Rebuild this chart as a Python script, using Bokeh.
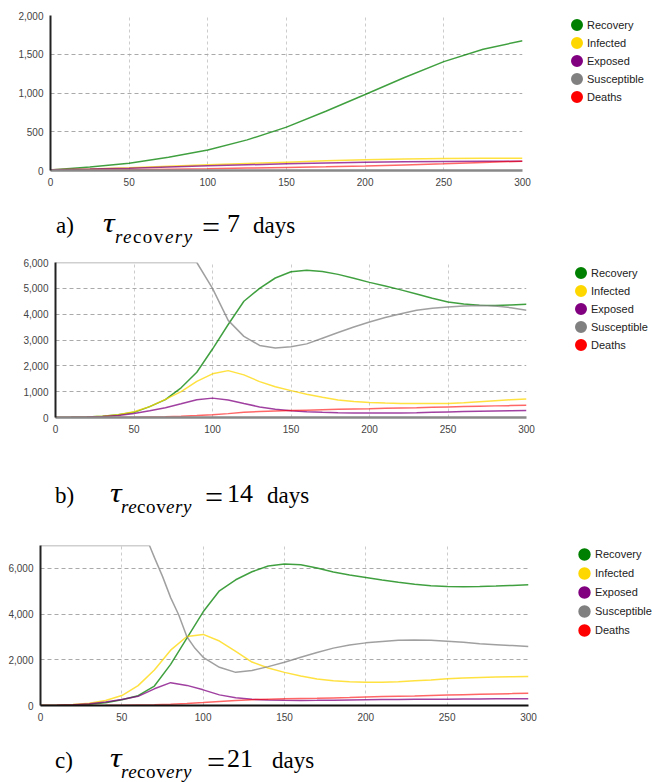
from bokeh.plotting import figure
from bokeh.models import Legend, LegendItem, NumeralTickFormatter, FixedTicker, Range1d, Div
from bokeh.layouts import column
from bokeh.embed import file_html
from bokeh.resources import INLINE

# ---------------- data ----------------
series_names = ["Recovery", "Infected", "Exposed", "Susceptible", "Deaths"]
legend_colors = ["#008000", "#FFD700", "#800080", "#808080", "#FF0000"]
x_ticks = [0, 50, 100, 150, 200, 250, 300]

# panel a) tau_recovery = 7 days
days_a = [0, 25, 50, 75, 100, 125, 150, 175, 200, 225, 250, 275, 300]
recovery_a = [5, 45, 95, 170, 265, 395, 560, 765, 980, 1200, 1405, 1565, 1675]
infected_a = [10, 20, 35, 55, 73, 90, 107, 125, 138, 148, 155, 158, 159]
exposed_a = [10, 18, 30, 45, 60, 73, 86, 97, 107, 113, 116, 118, 120]
deaths_a = [0, 4, 9, 15, 22, 32, 40, 48, 57, 71, 86, 103, 120]
y_ticks_a = [0, 500, 1000, 1500, 2000]

# panel b) tau_recovery = 14 days
days_b = [0, 10, 20, 30, 40, 50, 60, 70, 80, 90, 100, 110, 120, 130, 140, 150,
          160, 170, 180, 190, 200, 210, 220, 230, 240, 250, 260, 270, 280, 290, 300]
recovery_b = [0, 5, 20, 50, 110, 200, 420, 690, 1150, 1750, 2650, 3600, 4500, 5000, 5400, 5640,
              5700, 5650, 5540, 5390, 5230, 5090, 4940, 4780, 4620, 4475, 4390, 4350, 4340, 4355, 4385]
infected_b = [0, 5, 20, 50, 110, 220, 420, 700, 1000, 1400, 1690, 1815, 1650, 1390, 1190, 1040,
              900, 780, 680, 620, 585, 560, 545, 540, 540, 545, 570, 610, 650, 685, 715]
exposed_b = [0, 5, 15, 35, 80, 155, 260, 380, 530, 690, 750, 680, 540, 410, 320, 260,
             225, 200, 185, 175, 170, 170, 175, 185, 200, 215, 230, 240, 250, 260, 270]
susceptible_b = [6000, 6000, 6000, 6000, 6000, 6000, 6000, 6000, 6000, 6000, 5000, 3760, 3140, 2790, 2690, 2740,
                 2850, 3070, 3290, 3500, 3700, 3870, 4020, 4150, 4230, 4280, 4320, 4340, 4320, 4250, 4150]
deaths_b = [0, 0, 1, 3, 6, 12, 20, 30, 50, 75, 105, 150, 200, 235, 255, 270,
            285, 300, 315, 330, 340, 355, 370, 380, 395, 410, 425, 440, 450, 460, 470]
y_ticks_b = [0, 1000, 2000, 3000, 4000, 5000, 6000]

# panel c) tau_recovery = 21 days
days_c = [0, 10, 20, 30, 40, 50, 60, 70, 80, 90, 100, 110, 120, 130, 140, 150,
          160, 170, 180, 190, 200, 210, 220, 230, 240, 250, 260, 270, 280, 290, 300]
recovery_c = [0, 5, 20, 55, 120, 250, 430, 850, 1800, 2950, 4100, 5020, 5500, 5850, 6100, 6190,
              6160, 6020, 5840, 5710, 5600, 5490, 5390, 5300, 5240, 5210, 5200, 5210, 5230, 5255, 5280]
infected_c = [0, 10, 40, 100, 220, 435, 870, 1550, 2420, 3020, 3110, 2820, 2370, 1900, 1640, 1450,
              1290, 1160, 1080, 1040, 1020, 1020, 1040, 1080, 1120, 1165, 1200, 1230, 1250, 1260, 1265]
exposed_c = [0, 8, 30, 80, 150, 260, 400, 730, 1000, 880, 685, 465, 335, 270, 240, 225,
             220, 225, 232, 240, 250, 258, 265, 270, 273, 275, 280, 285, 290, 295, 298]
deaths_c = [0, 0, 1, 3, 6, 12, 22, 35, 55, 90, 130, 175, 220, 255, 275, 290,
            305, 318, 333, 350, 375, 390, 405, 420, 440, 460, 475, 490, 505, 520, 540]
days_c_susceptible = [0, 67, 70, 75, 80, 85, 90, 95, 100, 110, 120, 130, 140, 150, 160, 170,
                      180, 190, 200, 210, 220, 230, 240, 250, 260, 270, 280, 290, 300]
susceptible_c = [7000, 7000, 6480, 5650, 4720, 3960, 3010, 2500, 2110, 1670, 1450, 1530, 1700, 1890, 2110, 2320,
                 2510, 2650, 2740, 2800, 2850, 2870, 2850, 2810, 2770, 2700, 2660, 2620, 2580]
y_ticks_c = [0, 2000, 4000, 6000]

SANS = "Liberation Sans"
SERIF = "Liberation Serif"


def make_panel(series, ymax, yticks, fw, fh, shift, bt, bb, leg, xaxis_color, xaxis_width):
    p = figure(frame_width=fw, frame_height=fh, min_border_left=34, min_border_top=bt,
               min_border_right=120, min_border_bottom=bb,
               x_range=Range1d(0, 300), y_range=Range1d(0, ymax),
               output_backend="svg", toolbar_location=None, tools="")
    p.margin = (0, 0, 0, shift)
    p.outline_line_color = None
    p.background_fill_color = "white"
    p.border_fill_color = "white"
    p.extra_x_ranges = {"legend_only": Range1d(-20, -10)}

    p.xaxis.ticker = FixedTicker(ticks=x_ticks)
    p.yaxis.ticker = FixedTicker(ticks=yticks)
    p.yaxis.formatter = NumeralTickFormatter(format="0,0")
    for ax in (p.xaxis, p.yaxis):
        ax.major_tick_line_color = None
        ax.minor_tick_line_color = None
        ax.major_label_text_font = SANS
        ax.major_label_text_font_size = "10px"
        ax.major_label_text_color = "#444444"
    p.xaxis.major_label_standoff = 1
    p.yaxis.major_label_standoff = 1
    p.yaxis.axis_line_color = "#222222"
    p.yaxis.axis_line_width = 2
    p.xaxis.axis_line_color = xaxis_color
    p.xaxis.axis_line_width = xaxis_width

    p.ygrid.grid_line_color = "#aaaaaa"
    p.ygrid.grid_line_dash = "4 3"
    p.xgrid.grid_line_color = "#cccccc"
    p.xgrid.grid_line_dash = "3 3"

    for (xs, ys, color) in series:
        alpha = 0.6 if color == "#FF0000" else 0.75
        p.line(xs, ys, line_color=color, line_width=1.5, line_alpha=alpha)

    # legend-only circle markers: they sit on a range that is out of view
    items = []
    for name, c in zip(series_names, legend_colors):
        r = p.scatter(x=[0], y=[0], x_range_name="legend_only", marker="circle", size=6,
                      fill_color=c, line_color=c, line_width=6)
        items.append(LegendItem(label=name, renderers=[r]))
    lx, ly, gh, sp = leg
    legend = Legend(items=items, location=(lx, ly), margin=0, padding=0, spacing=sp,
                    glyph_width=gh, glyph_height=gh, label_height=gh, label_standoff=3,
                    label_text_font=SANS, label_text_font_size="11px", label_text_color="#222222",
                    border_line_color=None, background_fill_alpha=0)
    p.add_layout(legend, "right")
    return p


def caption(letter, number, height, top, base, sub_base, xs, ls):
    # xs: page x of letter, tau, re, cov, ery, =, number, days
    def span(text, x, baseline, fs, italic=False, extra=""):
        t = baseline - top - 0.8375 * fs
        st = "italic" if italic else "normal"
        return (f'<span style="position:absolute;display:block;left:{x}px;top:{t:.1f}px;'
                f'font-size:{fs}px;line-height:1;font-style:{st};white-space:nowrap;{extra}">{text}</span>')
    sub = f"letter-spacing:{ls}px;"
    parts = [
        span(letter, xs[0], base, 23),
        span("&tau;", xs[1], base, 27, True, "transform:scaleX(1.2);transform-origin:left;"),
        span("re", xs[2], sub_base, 19, True, sub),
        span("cov", xs[3], sub_base, 19, False, sub),
        span("ery", xs[4], sub_base, 19, True, sub),
        span("=", xs[5], base + 4.5, 32),
        span(number, xs[6], base, 26),
        span("days", xs[7], base, 23),
    ]
    html = (f'<div style="position:relative;width:640px;height:{height}px;overflow:hidden;'
            f'font-family:\'{SERIF}\';color:#000;">' + "".join(parts) + "</div>")
    return Div(text=html, width=640, height=height, margin=(0, 0, 0, 0))


pa = make_panel(
    [(days_a, recovery_a, legend_colors[0]), (days_a, infected_a, legend_colors[1]),
     (days_a, exposed_a, legend_colors[2]), (days_a, deaths_a, legend_colors[4])],
    2000, y_ticks_a, 472, 155, 15, 15, 20, (47, 66, 15, 3), "#888888", 2.5)
ca = caption("a)", "7", 60, 190, 233, 243, [56, 103, 115, 133, 165, 202, 227, 253], 1.4)

pb = make_panel(
    [(days_b, recovery_b, legend_colors[0]), (days_b, infected_b, legend_colors[1]),
     (days_b, exposed_b, legend_colors[2]), (days_b, susceptible_b, legend_colors[3]),
     (days_b, deaths_b, legend_colors[4])],
    6000, y_ticks_b, 471, 155, 20, 12, 20, (47, 65, 15, 3), "#888888", 2.5)
cb = caption("b)", "14", 93, 437, 503, 513, [55, 110, 121, 137, 166, 205, 227, 267], 0.6)

pc = make_panel(
    [(days_c, recovery_c, legend_colors[0]), (days_c, infected_c, legend_colors[1]),
     (days_c, exposed_c, legend_colors[2]), (days_c_susceptible, susceptible_c, legend_colors[3]),
     (days_c, deaths_c, legend_colors[4])],
    7000, y_ticks_c, 488, 160, 5, 15, 20, (48, 67, 16, 3), "#111111", 2)
cc = caption("c)", "21", 57, 725, 768, 778, [55, 110, 121, 137, 166, 207, 227, 272], 0.6)

layout = column(pa, ca, pb, cb, pc, cc, spacing=0)
open("out.html", "w").write(file_html(layout, INLINE))
